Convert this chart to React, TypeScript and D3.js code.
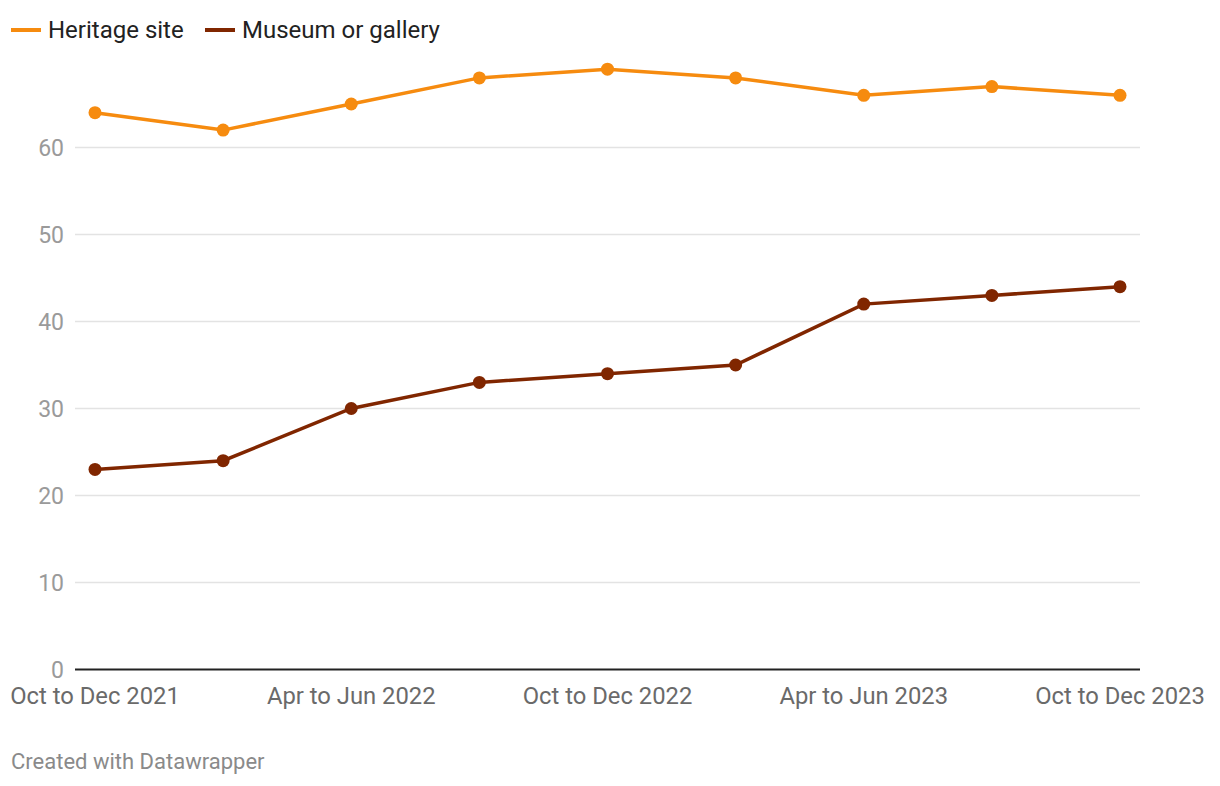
import React from "react";
import * as d3 from "d3";

const categories = [
  "Oct to Dec 2021",
  "Jan to Mar 2022",
  "Apr to Jun 2022",
  "Jul to Sep 2022",
  "Oct to Dec 2022",
  "Jan to Mar 2023",
  "Apr to Jun 2023",
  "Jul to Sep 2023",
  "Oct to Dec 2023",
];
const heritage = [64, 62, 65, 68, 69, 68, 66, 67, 66];
const museum = [23, 24, 30, 33, 34, 35, 42, 43, 44];
const yTicks = [0, 10, 20, 30, 40, 50, 60];
const xLabelIdx = [0, 2, 4, 6, 8];

const series = [
  { name: "Heritage site", values: heritage, color: "#f68b0f" },
  { name: "Museum or gallery", values: museum, color: "#802600" },
];

export default function App() {
  const W = 1220, H = 786;
  const x = d3.scalePoint<string>().domain(categories).range([95, 1120]);
  const y = d3.scaleLinear().domain([0, 60]).range([669.5, 147.5]);
  const line = d3
    .line<number>()
    .x((_, i) => x(categories[i])!)
    .y((d) => y(d));
  const font = "Roboto, sans-serif";
  return (
    <svg
      width={W}
      height={H}
      style={{ position: "absolute", left: 0, top: 0, fontFamily: font }}
    >
      <rect width={W} height={H} fill="#fff" />
      {/* legend */}
      <g>
        <line x1={11} x2={41} y1={30} y2={30} stroke={series[0].color} strokeWidth={4} />
        <text x={48} y={38} fontSize={24} fill="#222">{series[0].name}</text>
        <line x1={205} x2={235} y1={30} y2={30} stroke={series[1].color} strokeWidth={4} />
        <text x={242} y={38} fontSize={24} fill="#222">{series[1].name}</text>
      </g>
      {/* grid */}
      {yTicks.map((t) => (
        <g key={t}>
          {t !== 0 && (
            <line x1={75} x2={1140} y1={y(t)} y2={y(t)} stroke="#e3e3e3" strokeWidth={1.3} />
          )}
          <text x={64} y={y(t) + 8} fontSize={23} fill="#9a9a9a" textAnchor="end">
            {t}
          </text>
        </g>
      ))}
      <line x1={75} x2={1140} y1={y(0)} y2={y(0)} stroke="#222" strokeWidth={2} />
      {xLabelIdx.map((i) => (
        <text
          key={i}
          x={x(categories[i])}
          y={704}
          fontSize={23.8}
          fill="#6a6a6a"
          textAnchor="middle"
        >
          {categories[i]}
        </text>
      ))}
      {series.map((s) => (
        <g key={s.name}>
          <path d={line(s.values)!} fill="none" stroke={s.color} strokeWidth={3.5} />
          {s.values.map((v, i) => (
            <circle key={i} cx={x(categories[i])} cy={y(v)} r={6.5} fill={s.color} />
          ))}
        </g>
      ))}
      <text x={11} y={769} fontSize={22} fill="#8a8a8a">Created with Datawrapper</text>
    </svg>
  );
}
